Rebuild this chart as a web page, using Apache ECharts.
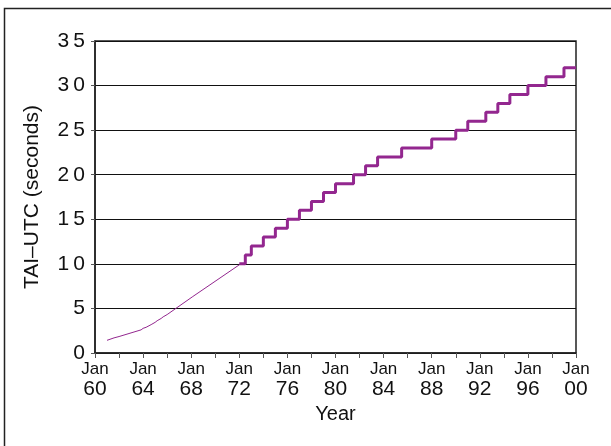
<!DOCTYPE html>
<html>
<head>
<meta charset="utf-8">
<script src="https://cdn.jsdelivr.net/npm/echarts@6/dist/echarts.min.js"></script>
<style>
  html, body { margin: 0; padding: 0; background: #fff; }
  #chart { width: 611px; height: 446px; }
</style>
</head>
<body>
<div id="chart"></div>
<script>
// TAI−UTC before 1972: piecewise drift segments (value just before and after each rate change)
const earlyDates = ['1961-01', '1961-08', '1961-08', '1962-01', '1963-11', '1963-11', '1964-01',
                    '1964-04', '1964-04', '1964-09', '1964-09', '1965-01', '1965-01', '1965-03',
                    '1965-03', '1965-07', '1965-07', '1965-09', '1965-09', '1966-01', '1968-02',
                    '1968-02', '1972-01'];
const earlyValues = [1.423, 1.698, 1.648, 1.846, 2.597, 2.697, 2.766,
                     2.884, 2.984, 3.182, 3.282, 3.440, 3.540, 3.617,
                     3.717, 3.875, 3.975, 4.055, 4.155, 4.313, 6.286,
                     6.186, 9.892];

// Leap-second era: TAI−UTC in whole seconds from each date onward
const leapDates = ['1972-01', '1972-07', '1973-01', '1974-01', '1975-01', '1976-01', '1977-01',
                   '1978-01', '1979-01', '1980-01', '1981-07', '1982-07', '1983-07', '1985-07',
                   '1988-01', '1990-01', '1991-01', '1992-07', '1993-07', '1994-07', '1996-01',
                   '1997-07', '1999-01', '2000-01'];
const leapValues = [10, 11, 12, 13, 14, 15, 16,
                    17, 18, 19, 20, 21, 22, 23,
                    24, 25, 26, 27, 28, 29, 30,
                    31, 32, 32];

const yTicks = [0, 5, 10, 15, 20, 25, 30, 35];

function toYear(s) {
  const [y, m] = s.split('-').map(Number);
  return y + (m - 1) / 12;
}
const earlyData = earlyDates.map((d, i) => [toYear(d), earlyValues[i]]);
const leapData = leapDates.map((d, i) => [toYear(d), leapValues[i]]);

const FONT = '"Liberation Sans", Arial, Helvetica, sans-serif';
const PURPLE = '#93278f';

const chart = echarts.init(document.getElementById('chart'), null, { renderer: 'canvas' });
chart.setOption({
  animation: false,
  backgroundColor: '#fff',
  graphic: [{
    type: 'rect',
    shape: { x: 4.5, y: 8.5, width: 700, height: 500 },
    style: { fill: 'none', stroke: '#222', lineWidth: 1.5 },
    silent: true
  }],
  grid: {
    left: 95, right: 35, top: 41, bottom: 93,
    show: true, borderColor: '#222', borderWidth: 1.5, backgroundColor: '#fff'
  },
  xAxis: {
    type: 'value',
    min: 1960, max: 2000, interval: 4,
    name: 'Year',
    nameLocation: 'middle',
    nameGap: 50,
    nameTextStyle: { fontFamily: FONT, fontSize: 20, color: '#111' },
    axisLine: { show: true, lineStyle: { color: '#222', width: 1.5 } },
    axisTick: { show: true, length: 5, lineStyle: { color: '#555', width: 1 } },
    minorTick: { show: true, splitNumber: 2, length: 5, lineStyle: { color: '#555', width: 1 } },
    splitLine: { show: false },
    axisLabel: {
      margin: 7,
      fontFamily: FONT,
      color: '#111',
      formatter: v => '{a|Jan}\n{b|' + String(Math.round(v) % 100).padStart(2, '0') + '}',
      rich: {
        a: { fontSize: 17, fontFamily: FONT, color: '#111', lineHeight: 18 },
        b: { fontSize: 21, fontFamily: FONT, color: '#111', lineHeight: 22 }
      }
    }
  },
  yAxis: {
    type: 'value',
    min: yTicks[0], max: yTicks[yTicks.length - 1], interval: 5,
    name: 'TAI–UTC (seconds)',
    nameLocation: 'middle',
    nameGap: 52,
    nameTextStyle: { fontFamily: FONT, fontSize: 21, color: '#111' },
    axisLine: { show: true, lineStyle: { color: '#222', width: 1.5 } },
    axisTick: { show: true, length: 4, lineStyle: { color: '#555', width: 1 } },
    splitLine: { show: true, lineStyle: { color: '#111', width: 1 } },
    axisLabel: {
      margin: 10,
      fontFamily: FONT,
      fontSize: 21,
      color: '#111',
      formatter: v => String(v).split('').join('\u2009')
    }
  },
  series: [
    {
      type: 'line',
      data: earlyData,
      showSymbol: false,
      lineStyle: { color: PURPLE, width: 1 },
      z: 3
    },
    {
      type: 'line',
      data: leapData,
      step: 'end',
      showSymbol: false,
      lineStyle: { color: PURPLE, width: 3 },
      z: 4
    }
  ]
});
</script>
</body>
</html>
